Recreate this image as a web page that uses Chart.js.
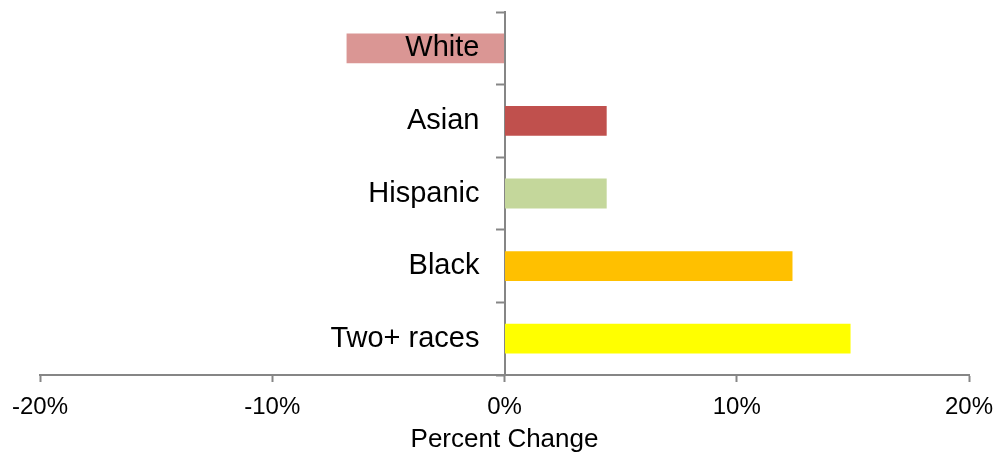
<!DOCTYPE html>
<html>
<head>
<meta charset="utf-8">
<script src="https://cdn.jsdelivr.net/npm/chart.js@4/dist/chart.umd.min.js"></script>
<style>
  html, body { margin: 0; padding: 0; background: #fff; }
  #wrap { width: 1000px; height: 455px; }
</style>
</head>
<body>
<div id="wrap"><canvas id="grafico"></canvas></div>
<script>
const categorias = ['White', 'Asian', 'Hispanic', 'Black', 'Two+ races'];
const variacao = [-6.8, 4.4, 4.4, 12.4, 14.9];
const cores = ['#DA9694', '#C0504D', '#C4D79B', '#FFC000', '#FFFF00'];
const ticksX = [-20, -10, 0, 10, 20];

const cinza = '#868686';

// category names sit just left of the zero line, drawn on top of the bars
const rotulosCategoria = {
  id: 'rotulosCategoria',
  afterDatasetsDraw(chart) {
    const ctx = chart.ctx;
    const x = chart.scales.x.getPixelForValue(0) - 25;
    const y = chart.scales.y;
    ctx.save();
    ctx.font = '29px "Liberation Sans"';
    ctx.fillStyle = '#000';
    ctx.textAlign = 'right';
    ctx.textBaseline = 'middle';
    categorias.forEach((c, i) => {
      ctx.fillText(c, x, y.getPixelForValue(i));
    });
    ctx.restore();
  }
};

const grafico = new Chart(document.getElementById('grafico'), {
  type: 'bar',
  data: {
    labels: categorias,
    datasets: [{
      data: variacao,
      backgroundColor: cores,
      borderWidth: 0,
      categoryPercentage: 1,
      barPercentage: 0.41
    }]
  },
  options: {
    indexAxis: 'y',
    responsive: true,
    maintainAspectRatio: false,
    animation: false,
    layout: { padding: { top: 12, right: 31, left: 40, bottom: 0 } },
    plugins: {
      legend: { display: false },
      tooltip: { enabled: false }
    },
    scales: {
      x: {
        min: -20,
        max: 20,
        afterBuildTicks: scale => {
          scale.ticks = ticksX.map(v => ({ value: v }));
        },
        afterFit: scale => {
          scale.height = 80;
          scale.paddingLeft = 0;
          scale.paddingRight = 0;
        },
        grid: {
          drawOnChartArea: false,
          drawTicks: true,
          tickLength: 7,
          tickColor: cinza,
          tickWidth: 2
        },
        border: { color: cinza, width: 2 },
        ticks: {
          color: '#000',
          padding: 11,
          maxRotation: 0,
          font: { family: 'Liberation Sans', size: 24 },
          callback: v => v + '%'
        },
        title: {
          display: true,
          text: 'Percent Change',
          color: '#000',
          padding: { top: 2, bottom: 0 },
          font: { family: 'Liberation Sans', size: 26 }
        }
      },
      y: {
        position: { x: 0 },
        grid: {
          drawOnChartArea: false,
          drawTicks: true,
          offset: true,
          tickLength: 8,
          tickColor: cinza,
          tickWidth: 2
        },
        border: { color: cinza, width: 2 },
        ticks: { display: false }
      }
    }
  },
  plugins: [rotulosCategoria]
});
</script>
</body>
</html>
